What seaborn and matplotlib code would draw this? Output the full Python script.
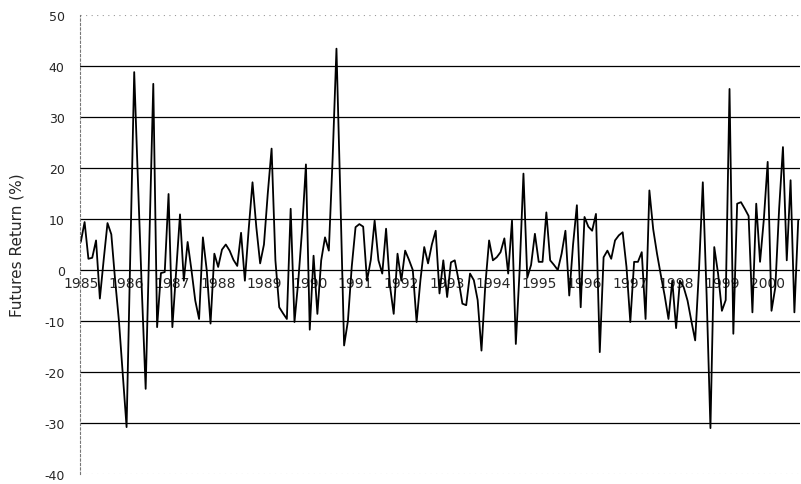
import numpy as np
import pandas as pd
import matplotlib
matplotlib.use("Agg")
import matplotlib.pyplot as plt
import seaborn as sns

# Monthly futures returns (%), Jan 1985 onward
returns = [
    5.5, 9.4, 2.2, 2.4, 5.8, -5.6, 2.0, 9.2, 7.0, -2.0, -10.0, -20.5,
    -30.8, 4.0, 38.8, 17.0, -4.0, -23.3, 7.0, 36.5, -11.2, -0.6, -0.4, 14.9,
    -11.2, 0.0, 10.9, -2.1, 5.5, 0.0, -6.0, -9.6, 6.4, 0.0, -10.5, 3.2,
    0.6, 4.0, 5.0, 3.8, 2.0, 0.8, 7.3, -2.1, 8.0, 17.2, 8.4, 1.3,
    5.0, 15.0, 23.8, 1.9, -7.3, -8.5, -9.6, 12.0, -10.2, -2.1, 8.0, 20.7,
    -11.7, 2.8, -8.6, 1.9, 6.4, 3.8, 22.0, 43.4, 15.0, -14.8, -10.0, 0.6,
    8.4, 9.0, 8.5, -2.1, 2.0, 9.7, 1.9, -0.7, 8.1, -3.0, -8.6, 3.2,
    -2.1, 3.8, 2.0, 0.0, -10.2, -2.0, 4.5, 1.3, 5.0, 7.7, -4.6, 1.9,
    -5.3, 1.5, 1.9, -2.0, -6.6, -6.9, -0.7, -2.0, -5.9, -15.8, -3.0, 5.8,
    1.9, 2.5, 3.5, 6.2, -0.7, 9.7, -14.5, 0.0, 18.9, -1.5, 1.0, 7.1,
    1.6, 1.6, 11.3, 1.9, 1.0, 0.0, 3.2, 7.7, -5.0, 5.0, 12.7, -7.3,
    10.4, 8.5, 7.7, 11.0, -16.1, 2.5, 3.8, 2.2, 5.8, 6.8, 7.4, 0.6,
    -10.2, 1.6, 1.6, 3.5, -9.6, 15.6, 8.0, 3.2, -1.0, -5.0, -9.6, -2.1,
    -11.4, -2.1, -3.4, -6.0, -10.0, -13.8, 0.0, 17.2, -5.0, -31.0, 4.5, -0.7,
    -8.0, -5.9, 35.5, -12.5, 13.0, 13.3, 12.0, 10.6, -8.3, 13.0, 1.6, 10.0,
    21.2, -8.0, -3.4, 12.0, 24.1, 1.9, 17.6, -8.3, 9.7,
]
year_labels = ["1985", "1986", "1987", "1988", "1989", "1990", "1991", "1992",
               "1993", "1994", "1995", "1996", "1997", "1998", "1999", "2000"]
y_ticks = [50, 40, 30, 20, 10, 0, -10, -20, -30, -40]

df = pd.DataFrame({"month": np.arange(len(returns)), "ret": returns})

sns.set_style("white")
plt.rcParams["font.family"] = ["DejaVu Sans"]

fig = plt.figure(figsize=(8.01, 4.85), dpi=100)
ax = fig.add_axes([0.0999, 0.0206, 0.8990, 0.9464])

# gridlines
for v in y_ticks:
    if v in (50, -40):
        ax.axhline(v, color="#9a9a9a", lw=0.8, ls=(0, (1, 4)), zorder=0)
    else:
        ax.axhline(v, color="black", lw=0.9, zorder=0)

sns.lineplot(data=df, x="month", y="ret", ax=ax, color="black", lw=1.3)

ax.set_ylim(-40, 50)
ax.set_xlim(-0.2, len(returns) - 0.5)
ax.set_yticks(y_ticks)
ax.set_yticklabels([str(v) for v in y_ticks], fontsize=9)
ax.tick_params(axis="y", length=3, width=0.6, color="#555555", pad=8)

ax.set_xticks(np.arange(len(year_labels)) * 12)
ax.set_xticklabels(year_labels, fontsize=9.5)
ax.tick_params(axis="x", length=0, pad=4)
ax.spines["bottom"].set_position(("data", 0))
ax.spines["bottom"].set_visible(False)
for s in ("top", "right"):
    ax.spines[s].set_visible(False)
ax.spines["left"].set_color("#777777")
ax.spines["left"].set_linewidth(0.8)
ax.spines["left"].set_linestyle((0, (2, 2)))

ax.set_xlabel("")
ax.set_ylabel("Futures Return (%)", fontsize=11, labelpad=14)

fig.savefig("out.png", dpi=100)
